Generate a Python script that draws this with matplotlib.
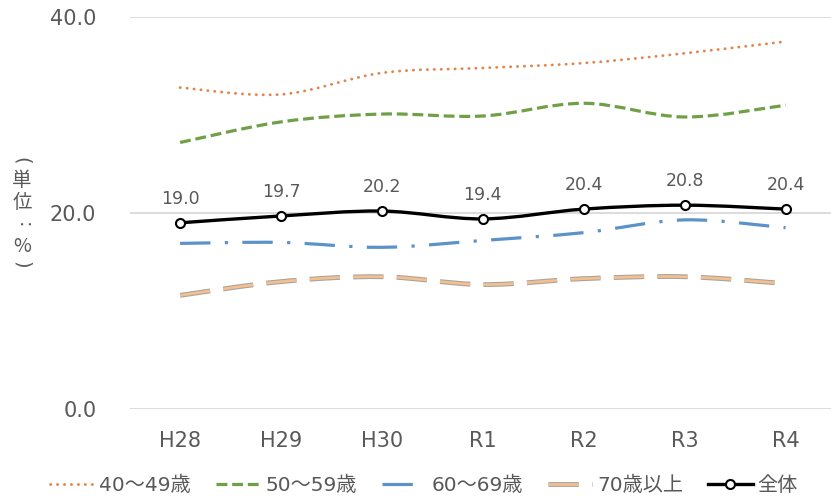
import matplotlib
matplotlib.use("Agg")
import matplotlib.pyplot as plt
import matplotlib.patheffects as pe
from matplotlib.lines import Line2D
from matplotlib.path import Path
from matplotlib.patches import PathPatch
import numpy as np

# Latin glyphs from DejaVu, kana/kanji fall back to Noto CJK
plt.rcParams["font.family"] = ["DejaVu Sans", "Noto Sans CJK JP"]

years = ["H28", "H29", "H30", "R1", "R2", "R3", "R4"]
age_40s = [32.8, 32.1, 34.3, 34.8, 35.3, 36.3, 37.5]
age_50s = [27.2, 29.3, 30.1, 29.9, 31.2, 29.8, 31.0]
age_60s = [16.9, 17.0, 16.5, 17.2, 18.0, 19.3, 18.5]
age_70plus = [11.6, 13.0, 13.5, 12.7, 13.3, 13.5, 12.8]
total = [19.0, 19.7, 20.2, 19.4, 20.4, 20.8, 20.4]

labels = ["40～49歳", "50～59歳", "60～69歳", "70歳以上", "全体"]
TEXT = "#595959"
W, H = 831, 501


def smooth_path(xs, ys):
    """Catmull-Rom style cubic Bezier through every point (spreadsheet 'smooth line')."""
    pts = np.column_stack([xs, ys]).astype(float)
    n = len(pts)
    verts = [pts[0]]
    codes = [Path.MOVETO]
    for i in range(n - 1):
        p0 = pts[max(i - 1, 0)]
        p1 = pts[i]
        p2 = pts[i + 1]
        p3 = pts[min(i + 2, n - 1)]
        c1 = p1 + (p2 - p0) / 6.0
        c2 = p2 - (p3 - p1) / 6.0
        verts += [c1, c2, p2]
        codes += [Path.CURVE4] * 3
    return Path(verts, codes)


styles = [
    dict(color="#E0844A", lw=2.0, ls=(0, (0.1, 2.4)), capstyle="round"),
    dict(color="#6FA046", lw=2.3, ls=(0, (3.4, 1.5)), capstyle="butt"),
    dict(color="#5B93C8", lw=2.3, ls=(0, (9.5, 4.5, 1, 4.5)), capstyle="butt"),
    dict(color="#F6C08E", lw=1.9, ls=(0, (11.5, 5)), capstyle="butt",
         effects=[pe.Stroke(linewidth=3.5, foreground="#A8A4A0"), pe.Normal()]),
]
series = [age_40s, age_50s, age_60s, age_70plus]

fig = plt.figure(figsize=(W / 100, H / 100), dpi=100)
ax = fig.add_axes([0.156, 0.1836, 0.844, 0.7824])
x = np.arange(len(years))

for vals, st in zip(series, styles):
    patch = PathPatch(smooth_path(x, vals), fill=False, edgecolor=st["color"],
                      linewidth=st["lw"], linestyle=st["ls"], capstyle=st["capstyle"],
                      zorder=3)
    if "effects" in st:
        patch.set_path_effects(st["effects"])
    ax.add_patch(patch)

ax.add_patch(PathPatch(smooth_path(x, total), fill=False, edgecolor="black",
                       linewidth=2.4, zorder=4))
ax.plot(x, total, "o", color="black", markerfacecolor="white", markersize=6.5,
        markeredgewidth=1.5, zorder=5)
for xi, v in zip(x, total):
    ax.annotate(f"{v:.1f}", (xi, v), xytext=(0, 11), textcoords="offset points",
                ha="center", va="bottom", fontsize=12.5, color=TEXT)

ax.set_xlim(-0.5, 6.45)
ax.set_ylim(0, 40)
ax.set_yticks([0, 20, 40])
ax.set_yticklabels(["0.0", "20.0", "40.0"])
ax.set_xticks(x)
ax.set_xticklabels(years)
ax.tick_params(axis="both", length=0, labelsize=15, labelcolor=TEXT)
ax.tick_params(axis="y", pad=24)
ax.tick_params(axis="x", pad=16)
for s in ax.spines.values():
    s.set_visible(False)
ax.grid(axis="y", color="#D9D9D9", linewidth=1.3)
ax.set_axisbelow(True)

# vertical unit label, one glyph per row; brackets and colon turned sideways
unit_upright = [("単", 180), ("位", 202), ("%", 247)]
for ch, py in unit_upright:
    fig.text(22 / W, 1 - py / H, ch, ha="center", va="center",
             fontsize=14, color=TEXT, family=["Noto Sans CJK JP", "DejaVu Sans"])
unit_turned = [("(", 161, 16), (":", 225, 18), (")", 265, 16)]
for ch, py, px in unit_turned:
    fig.text(px / W, 1 - py / H, ch, ha="center", va="baseline", rotation=-90,
             rotation_mode="anchor", fontsize=14, color=TEXT)

handles = []
for st in styles:
    h = Line2D([], [], color=st["color"], linewidth=st["lw"], linestyle=st["ls"],
               solid_capstyle="butt", dash_capstyle=st["capstyle"])
    if "effects" in st:
        h.set_path_effects(st["effects"])
    handles.append(h)
handles.append(Line2D([], [], color="black", linewidth=2.4, marker="o",
                      markerfacecolor="white", markersize=6.5, markeredgewidth=1.5))
leg = fig.legend(handles, labels, loc="center", bbox_to_anchor=(0.51, 0.032), ncol=5,
                 frameon=False, fontsize=14.5, handlelength=2.2, handletextpad=0.25,
                 columnspacing=1.25, labelcolor=TEXT)

fig.savefig("out.png", dpi=100)
